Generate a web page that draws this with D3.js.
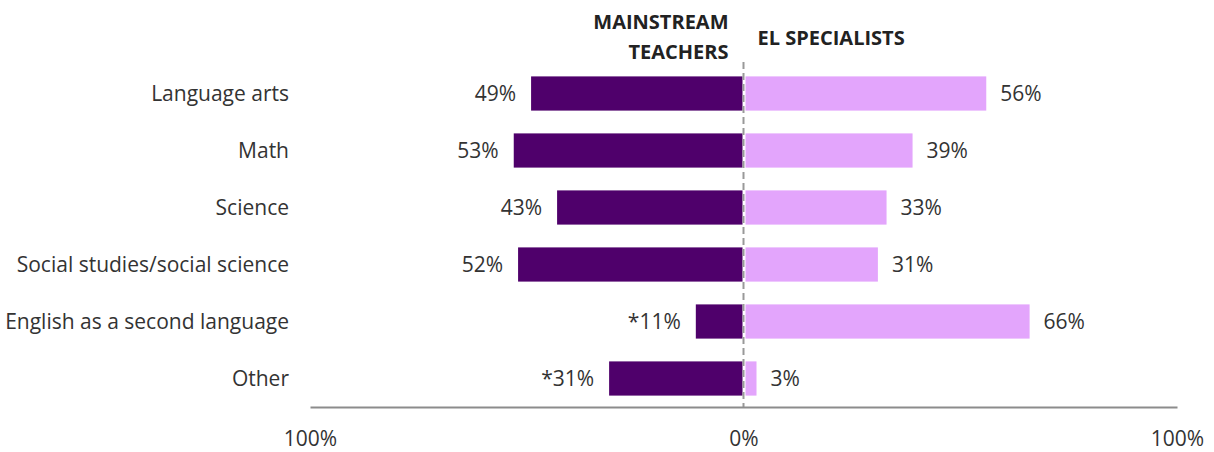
<!DOCTYPE html>
<html>
<head>
<meta charset="utf-8">
<script src="https://cdn.jsdelivr.net/npm/d3@7"></script>
<style>
  body { margin: 0; background: #fff; }
  svg { display: block; font-family: "Open Sans", sans-serif; }
</style>
</head>
<body>
<svg></svg>
<script>
const wSvg = 1214, hSvg = 452;

const categories = ["Language arts", "Math", "Science", "Social studies/social science", "English as a second language", "Other"];
const mainstream = [49, 53, 43, 52, 11, 31];
const elSpecialists = [56, 39, 33, 31, 66, 3];
const mainstreamLabels = ["49%", "53%", "43%", "52%", "*11%", "*31%"];
const elLabels = ["56%", "39%", "33%", "31%", "66%", "3%"];
const tickValues = [-100, 0, 100];

const darkPurple = "#4f006b";
const lightPurple = "#e3a5fc";
const fontSize = 21;

const svg = d3.select("svg")
    .attr("width", wSvg)
    .attr("height", hSvg);

const x = d3.scaleLinear()
    .domain([-100, 100])
    .range([310, 1177]);

const y = d3.scaleBand()
    .domain(categories)
    .range([65, 407])
    .paddingInner(0.4)
    .paddingOuter(0.2);

const rows = categories.map((c, i) => ({
    cat: c, left: mainstream[i], right: elSpecialists[i],
    leftLabel: mainstreamLabels[i], rightLabel: elLabels[i]
}));

// bars
svg.append("g").selectAll("rect")
    .data(rows)
    .enter()
    .append("rect")
    .attr("x", d => x(-d.left))
    .attr("y", d => y(d.cat))
    .attr("width", d => x(0) - 1 - x(-d.left))
    .attr("height", y.bandwidth())
    .attr("fill", darkPurple);

svg.append("g").selectAll("rect")
    .data(rows)
    .enter()
    .append("rect")
    .attr("x", x(0) + 2)
    .attr("y", d => y(d.cat))
    .attr("width", d => x(d.right) - x(0) - 2)
    .attr("height", y.bandwidth())
    .attr("fill", lightPurple);

// value labels
svg.append("g").selectAll("text")
    .data(rows)
    .enter()
    .append("text")
    .attr("x", d => x(-d.left) - 15)
    .attr("y", d => y(d.cat) + y.bandwidth() / 2)
    .attr("dy", "0.35em")
    .attr("text-anchor", "end")
    .attr("font-size", fontSize)
    .attr("fill", "#333")
    .text(d => d.leftLabel);

svg.append("g").selectAll("text")
    .data(rows)
    .enter()
    .append("text")
    .attr("x", d => x(d.right) + 14)
    .attr("y", d => y(d.cat) + y.bandwidth() / 2)
    .attr("dy", "0.35em")
    .attr("text-anchor", "start")
    .attr("font-size", fontSize)
    .attr("fill", "#333")
    .text(d => d.rightLabel);

// category labels
svg.append("g").selectAll("text")
    .data(rows)
    .enter()
    .append("text")
    .attr("x", 289)
    .attr("y", d => y(d.cat) + y.bandwidth() / 2)
    .attr("dy", "0.35em")
    .attr("text-anchor", "end")
    .attr("font-size", fontSize)
    .attr("fill", "#333")
    .text(d => d.cat);

// center dashed line
svg.append("line")
    .attr("x1", x(0)).attr("x2", x(0))
    .attr("y1", 62).attr("y2", 407)
    .attr("stroke", "#999")
    .attr("stroke-width", 2)
    .attr("stroke-dasharray", "7,4");

// bottom axis
const axis = svg.append("g")
    .attr("transform", `translate(0,407)`)
    .call(d3.axisBottom(x).tickValues(tickValues).tickSize(0).tickPadding(24)
        .tickFormat(d => Math.abs(d) + "%"));
axis.select(".domain").attr("stroke", "#8c8c8c").attr("stroke-width", 2);
axis.selectAll("text")
    .attr("font-size", fontSize)
    .attr("font-family", "'Open Sans', sans-serif")
    .attr("fill", "#333");

// headers
const header = svg.append("g")
    .attr("font-weight", "bold")
    .attr("font-size", 20)
    .attr("fill", "#222");
header.append("text")
    .attr("x", x(0) - 15).attr("y", 29)
    .attr("text-anchor", "end")
    .text("MAINSTREAM");
header.append("text")
    .attr("x", x(0) - 15).attr("y", 59)
    .attr("text-anchor", "end")
    .text("TEACHERS");
header.append("text")
    .attr("x", x(0) + 14).attr("y", 45)
    .attr("text-anchor", "start")
    .text("EL SPECIALISTS");
</script>
</body>
</html>
